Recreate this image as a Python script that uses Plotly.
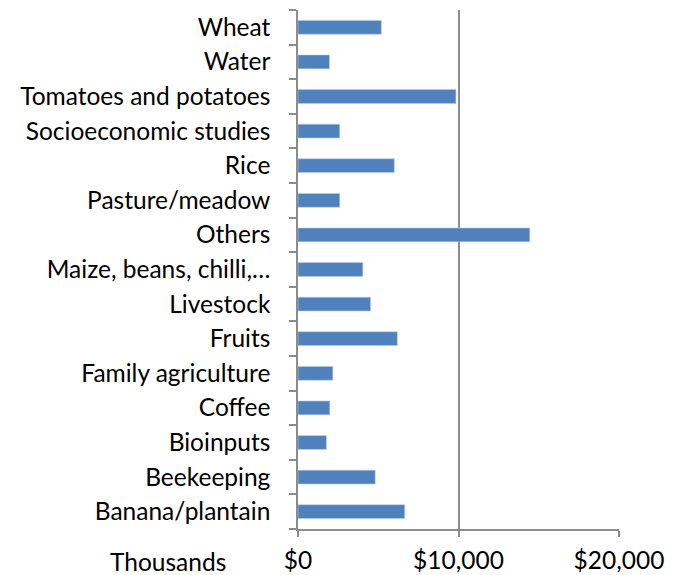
import plotly.graph_objects as go

categories = ["Banana/plantain", "Beekeeping", "Bioinputs", "Coffee", "Family agriculture",
              "Fruits", "Livestock", "Maize, beans, chilli,…", "Others", "Pasture/meadow",
              "Rice", "Socioeconomic studies", "Tomatoes and potatoes", "Water", "Wheat"]
values = [6650, 4810, 1770, 1980, 2170,
          6190, 4520, 4040, 14440, 2600,
          6000, 2600, 9840, 1960, 5190]
tick_vals = [0, 10000, 20000]
tick_text = ["$0", "$10,000", "$20,000"]
unit_label = "Thousands"

FONT = "Lato"
FS = 24.5

fig = go.Figure(go.Bar(
    x=values, y=categories, orientation="h",
    marker=dict(color="#4F81BD", line=dict(color="#B8CCE4", width=0.6)),
    width=0.4,
))

fig.update_layout(
    width=670, height=567,
    margin=dict(l=290, r=59, t=2, b=46),
    paper_bgcolor="white", plot_bgcolor="white",
    showlegend=False,
    font=dict(family=FONT, size=FS, color="#000000"),
)
fig.update_xaxes(
    range=[0, 20000], tickvals=tick_vals, ticktext=tick_text,
    showgrid=True, gridcolor="#8C8C8C", gridwidth=1.5,
    showline=True, linecolor="#8C8C8C", linewidth=1.5,
    ticks="outside", ticklen=6, tickcolor="#8C8C8C", tickwidth=1.5,
    ticklabelstandoff=3, automargin=False,
    zeroline=False, fixedrange=True,
)
fig.update_yaxes(
    type="category", categoryorder="array", categoryarray=categories,
    showline=True, linecolor="#8C8C8C", linewidth=1.5,
    ticks="outside", ticklen=7, tickcolor="#8C8C8C", tickwidth=1.5,
    tickson="boundaries", ticklabelstandoff=21, automargin=False,
    showgrid=False, fixedrange=True,
)
fig.add_annotation(
    text=unit_label, xref="paper", yref="paper", x=-0.218, y=-0.062,
    xanchor="right", yanchor="middle", showarrow=False,
    font=dict(family=FONT, size=FS, color="#000000"),
)

fig.write_html("out.html")
